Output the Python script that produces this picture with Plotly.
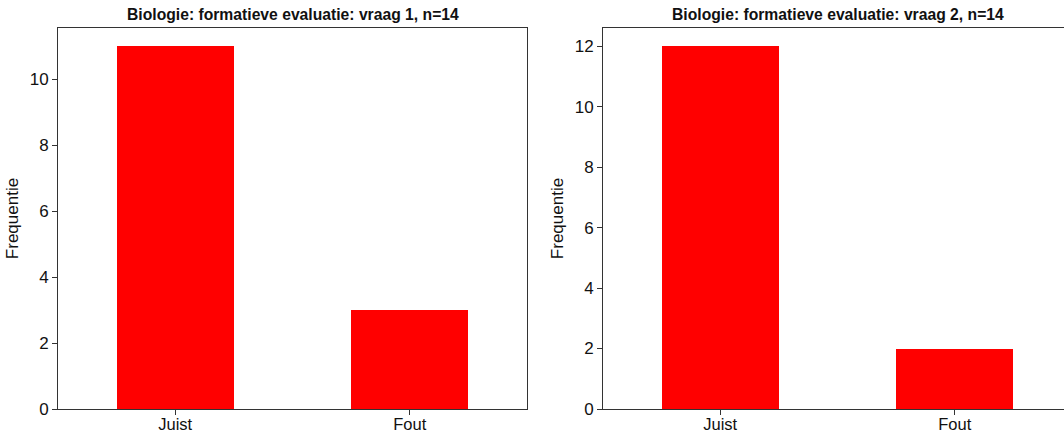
import plotly.graph_objects as go

categories = ["Juist", "Fout"]
vraag1 = [11, 3]
vraag2 = [12, 2]
titles = ["Biologie: formatieve evaluatie: vraag 1, n=14",
          "Biologie: formatieve evaluatie: vraag 2, n=14"]
ylabel = "Frequentie"

W, H = 1064, 436
FONT = "Liberation Sans, Arial, sans-serif"
AX = "#333333"

fig = go.Figure()
fig.add_trace(go.Bar(x=[0, 1], y=vraag1, width=0.5, marker_color="#ff0000",
                     marker_line_width=0, xaxis="x", yaxis="y", showlegend=False))
fig.add_trace(go.Bar(x=[0, 1], y=vraag2, width=0.5, marker_color="#ff0000",
                     marker_line_width=0, xaxis="x2", yaxis="y2", showlegend=False))

def px_x(v):
    return v / W

def px_y(v):
    return (H - v) / H

ydom = [px_y(409), px_y(28)]
common_x = dict(tickmode="array", tickvals=[0, 1], ticktext=categories,
                ticks="outside", ticklen=5, tickcolor=AX, showline=True,
                linecolor=AX, linewidth=1, showgrid=False, zeroline=False,
                automargin=False, ticklabelstandoff=-5,
                tickfont=dict(family=FONT, size=16.5, color="#111"))
common_y = dict(ticks="outside", ticklen=5, tickcolor=AX, showline=True,
                linecolor=AX, linewidth=1, showgrid=False, zeroline=False,
                automargin=False,
                tickfont=dict(family=FONT, size=17, color="#111"),
                title=dict(text=ylabel, font=dict(family=FONT, size=17, color="#111"), standoff=6),
                domain=ydom)

unit = (527 - 58) / 2.0
x2_right_val = -0.5 + (W - 603) / unit

fig.update_layout(
    width=W, height=H, margin=dict(l=0, r=0, t=0, b=0),
    paper_bgcolor="white", plot_bgcolor="white",
    bargap=0,
    xaxis=dict(domain=[px_x(58), px_x(527)], range=[-0.5, 1.5], mirror=True, anchor="y", **common_x),
    yaxis=dict(range=[0, 11.55], tickvals=[0, 2, 4, 6, 8, 10], mirror=True, anchor="x", **common_y),
    xaxis2=dict(domain=[px_x(603), 1.0], range=[-0.5, x2_right_val], mirror=True, anchor="y2", **common_x),
    yaxis2=dict(range=[0, 12.6], tickvals=[0, 2, 4, 6, 8, 10, 12], mirror=False, anchor="x2", **common_y),
)

centers = [px_x((58 + 527) / 2), px_x(603 + unit)]
for t, cx in zip(titles, centers):
    fig.add_annotation(text="<b>" + t + "</b>", x=cx, y=px_y(14), xref="paper", yref="paper",
                       xanchor="center", yanchor="middle", showarrow=False,
                       font=dict(family=FONT, size=15.7, color="#111"))

post = ("document.body.style.margin='0px';document.body.style.overflow='hidden';"
        "var d=document.getElementById('{plot_id}');"
        "d.style.position='fixed';d.style.top='0px';d.style.left='0px';")
fig.write_html("out.html", config={"displayModeBar": False}, post_script=post)
